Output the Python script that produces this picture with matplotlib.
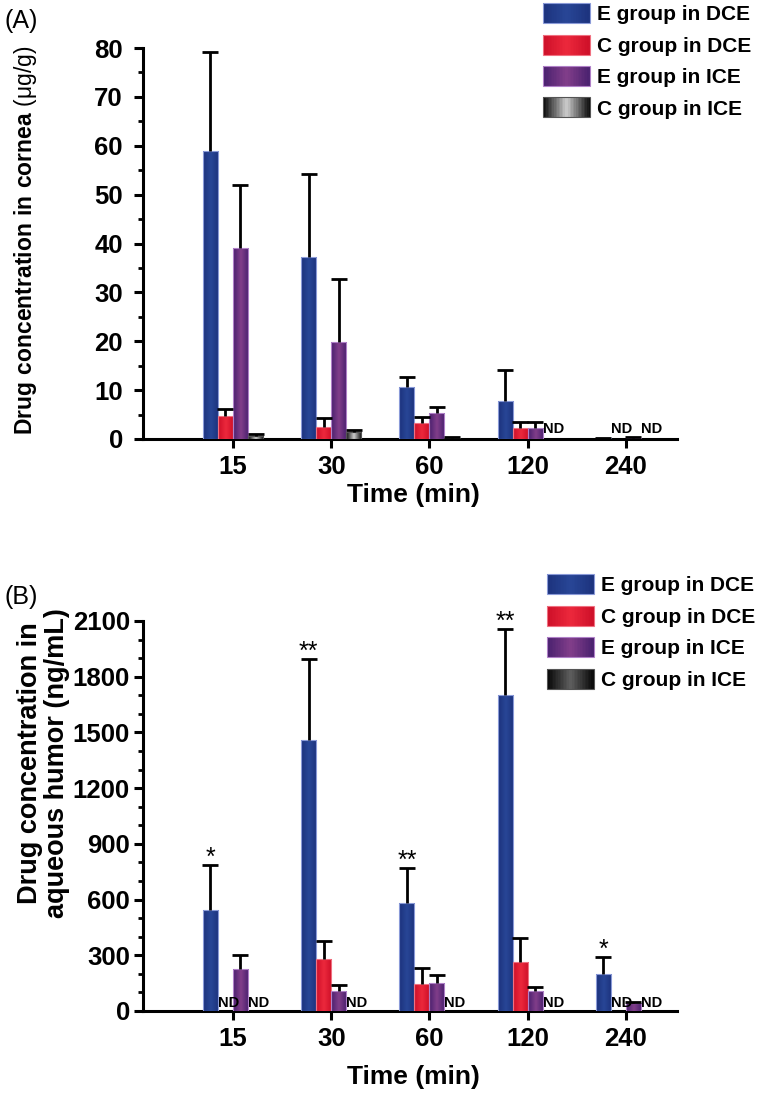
import numpy as np
import matplotlib
matplotlib.use('Agg')
import matplotlib.pyplot as plt
from matplotlib.colors import LinearSegmentedColormap
from matplotlib.legend_handler import HandlerBase
from matplotlib.patches import Rectangle
from matplotlib.ticker import MultipleLocator

nan = np.nan

# ---------------- data ----------------
times = ['15', '30', '60', '120', '240']
series_names = ['E group in DCE', 'C group in DCE', 'E group in ICE', 'C group in ICE']

# Panel A: cornea (ug/g), mean and upper SD
cornea_e_dce = [59.0, 37.3, 10.7, 7.8, 0.2]
cornea_e_dce_sd = [20.2, 16.9, 1.9, 6.4, 0.0]
cornea_c_dce = [4.7, 2.4, 3.3, 2.3, nan]
cornea_c_dce_sd = [1.4, 1.9, 1.3, 1.2, nan]
cornea_e_ice = [39.0, 19.8, 5.3, 2.3, 0.3]
cornea_e_ice_sd = [13.0, 13.0, 1.2, 1.1, 0.1]
cornea_c_ice = [0.7, 1.4, 0.3, nan, nan]
cornea_c_ice_sd = [0.3, 0.4, 0.1, nan, nan]

# Panel B: aqueous humor (ng/mL)
aq_e_dce = [544, 1460, 582, 1702, 199]
aq_e_dce_sd = [242, 438, 188, 355, 92]
aq_c_dce = [nan, 280, 145, 264, nan]
aq_c_dce_sd = [nan, 97, 87, 129, nan]
aq_e_ice = [226, 108, 151, 108, 43]
aq_e_ice_sd = [76, 32, 43, 21, 7]
aq_c_ice = [nan, nan, nan, nan, nan]
aq_c_ice_sd = [nan, nan, nan, nan, nan]

aq_stars = ['*', '**', '**', '**', '*']

# ---------------- style ----------------
FONT = 'Liberation Sans'
plt.rcParams['font.family'] = [FONT, 'DejaVu Sans']
plt.rcParams['mathtext.fontset'] = 'custom'
plt.rcParams['mathtext.rm'] = FONT
plt.rcParams['mathtext.bf'] = FONT + ':bold'

def mk(edge, center):
    e = np.array(edge) / 255.0
    c = np.array(center) / 255.0
    return LinearSegmentedColormap.from_list('g', [e, c, e])

cmaps_A = [mk((28, 50, 125), (40, 70, 150)),
           mk((205, 15, 40), (236, 40, 60)),
           mk((72, 32, 110), (130, 62, 138)),
           mk((8, 8, 8), (205, 205, 205))]
cmaps_B = [mk((28, 50, 125), (40, 70, 150)),
           mk((205, 15, 40), (236, 40, 60)),
           mk((72, 32, 110), (130, 62, 138)),
           mk((5, 5, 5), (95, 95, 95))]
edgecols = ['#8a9ad8', '#f07080', '#b080c8', '#555555']

W = 760 / 100.0
H = 1096 / 100.0
fig = plt.figure(figsize=(W, H), dpi=100)

def fx(px):
    return px / 760.0

def fy(py):
    return 1 - py / 1096.0

axA = fig.add_axes([fx(143), fy(439), fx(677) - fx(143), fy(48) - fy(439)])
axB = fig.add_axes([fx(143), fy(1011), fx(677) - fx(143), fy(621) - fy(1011)])

x = np.arange(len(times))
bw = 0.153
offsets = [-1.5 * bw, -0.5 * bw, 0.5 * bw, 1.5 * bw]
TICK_FS = 18.5


class GradHandler(HandlerBase):
    def __init__(self, cmap, ec):
        super().__init__()
        self.cmap = cmap
        self.ec = ec

    def create_artists(self, legend, orig_handle, xdescent, ydescent,
                       width, height, fontsize, trans):
        arts = []
        n = 30
        for k in range(n):
            r = Rectangle((-xdescent + width * k / n, -ydescent), width / n * 1.2, height,
                          facecolor=self.cmap((k + 0.5) / n), edgecolor='none',
                          transform=trans)
            arts.append(r)
        arts.append(Rectangle((-xdescent, -ydescent), width, height, facecolor='none',
                              edgecolor=self.ec, lw=0.8, transform=trans))
        return arts


def panel(ax, means, sds, cmaps, ylim, nd_off):
    containers = []
    for i in range(4):
        m = np.array(means[i], dtype=float)
        s = np.array(sds[i], dtype=float)
        xs = x + offsets[i]
        bars = ax.bar(xs, np.nan_to_num(m), width=bw, color='none',
                      edgecolor=edgecols[i], linewidth=0.8, zorder=3, label=series_names[i])
        containers.append(bars)
        grad = np.linspace(0, 1, 64).reshape(1, -1)
        for j, p in enumerate(bars.patches):
            if np.isnan(m[j]) or m[j] <= 0:
                p.set_visible(False)
                continue
            im = ax.imshow(grad, extent=[p.get_x(), p.get_x() + p.get_width(), 0, p.get_height()],
                           aspect='auto', cmap=cmaps[i], zorder=2.9, interpolation='bilinear')
            im.set_clip_path(p)
        ok = ~np.isnan(m)
        if ok.any():
            eb = ax.errorbar(xs[ok], m[ok], yerr=[np.zeros(ok.sum()), s[ok]], fmt='none',
                             ecolor='black', elinewidth=2.0, capsize=5.5, capthick=2.0,
                             zorder=4)
            caps = eb.lines[1]
            if len(caps) == 2:
                caps[0].set_visible(False)  # hide lower cap (one-sided bars)
        for j in range(len(m)):
            if np.isnan(m[j]):
                ax.annotate('ND', xy=(xs[j] - bw / 2, 0), xytext=(0, nd_off),
                            textcoords='offset points', ha='left', va='bottom',
                            fontsize=10.5, fontweight='bold', zorder=5)
    ax.set_xlim(-0.916, 4.52)
    ax.set_ylim(*ylim)
    ax.set_xticks(x)
    ax.set_xticklabels(times)
    for sp in ['top', 'right']:
        ax.spines[sp].set_visible(False)
    for sp in ['left', 'bottom']:
        ax.spines[sp].set_linewidth(2.2)
    ax.tick_params(axis='both', which='major', direction='out', width=2.2, length=6.5,
                   labelsize=TICK_FS)
    ax.tick_params(axis='y', which='minor', direction='out', width=2.0, length=3.5)
    ax.tick_params(axis='x', which='both', pad=5)
    return containers


contA = panel(axA, [cornea_e_dce, cornea_c_dce, cornea_e_ice, cornea_c_ice],
              [cornea_e_dce_sd, cornea_c_dce_sd, cornea_e_ice_sd, cornea_c_ice_sd],
              cmaps_A, (0, 80), 2)
axA.yaxis.set_major_locator(MultipleLocator(10))
axA.yaxis.set_minor_locator(MultipleLocator(5))
axA.tick_params(axis='y', which='major', pad=8)

contB = panel(axB, [aq_e_dce, aq_c_dce, aq_e_ice, aq_c_ice],
              [aq_e_dce_sd, aq_c_dce_sd, aq_e_ice_sd, aq_c_ice_sd],
              cmaps_B, (0, 2100), 1)
axB.yaxis.set_major_locator(MultipleLocator(300))
axB.yaxis.set_minor_locator(MultipleLocator(100))
axB.tick_params(axis='y', which='major', pad=3)

for ax in (axA, axB):
    for lab in ax.get_xticklabels() + ax.get_yticklabels():
        lab.set_fontweight('bold')

# significance stars
for j in range(len(times)):
    top = aq_e_dce[j] + aq_e_dce_sd[j]
    axB.annotate(aq_stars[j], xy=(x[j] + offsets[0], top), xytext=(0, 0),
                 textcoords='offset points', ha='center', va='baseline',
                 fontsize=18, zorder=5)

# axis labels
axA.set_xlabel('Time (min)', fontsize=19, fontweight='bold')
axA.xaxis.set_label_coords(0.507, -0.143)
axA.xaxis.label.set_va('center')
axB.set_xlabel('Time (min)', fontsize=19, fontweight='bold')
axB.xaxis.set_label_coords(0.507, -0.169)
axB.xaxis.label.set_va('center')

axA.set_ylabel(r'$\mathbf{Drug\ concentration\ in\ cornea}$ (μg/g)', fontsize=16.5)
axA.yaxis.set_label_coords((26 - 143) / 534.0, (439 - 240) / 391.0)
axA.yaxis.label.set_va('center')

axB.set_ylabel('Drug concentration in\naqueous humor (ng/mL)', fontsize=19.5,
               fontweight='bold', linespacing=1.05)
axB.yaxis.set_label_coords((44 - 143) / 534.0, (1011 - 763) / 390.0)
axB.yaxis.label.set_va('center')

# panel tags
fig.text(fx(5), fy(21), '(A)', fontsize=18, ha='left', va='center')
fig.text(fx(5), fy(597), '(B)', fontsize=18, ha='left', va='center')

# legends
leg_kw = dict(loc='upper left', bbox_transform=fig.transFigure, frameon=False,
              borderpad=0, borderaxespad=0, handlelength=2.26, handleheight=1.1,
              labelspacing=0.5, handletextpad=0.35,
              prop={'family': FONT, 'weight': 'bold', 'size': 15})
axA.legend(contA, series_names, bbox_to_anchor=(fx(543), fy(3)),
           handler_map={c: GradHandler(cm, ec) for c, cm, ec in zip(contA, cmaps_A, edgecols)},
           **leg_kw)
axB.legend(contB, series_names, bbox_to_anchor=(fx(547), fy(574)),
           handler_map={c: GradHandler(cm, ec) for c, cm, ec in zip(contB, cmaps_B, edgecols)},
           **leg_kw)

fig.savefig('out.png', dpi=100, facecolor='white')
